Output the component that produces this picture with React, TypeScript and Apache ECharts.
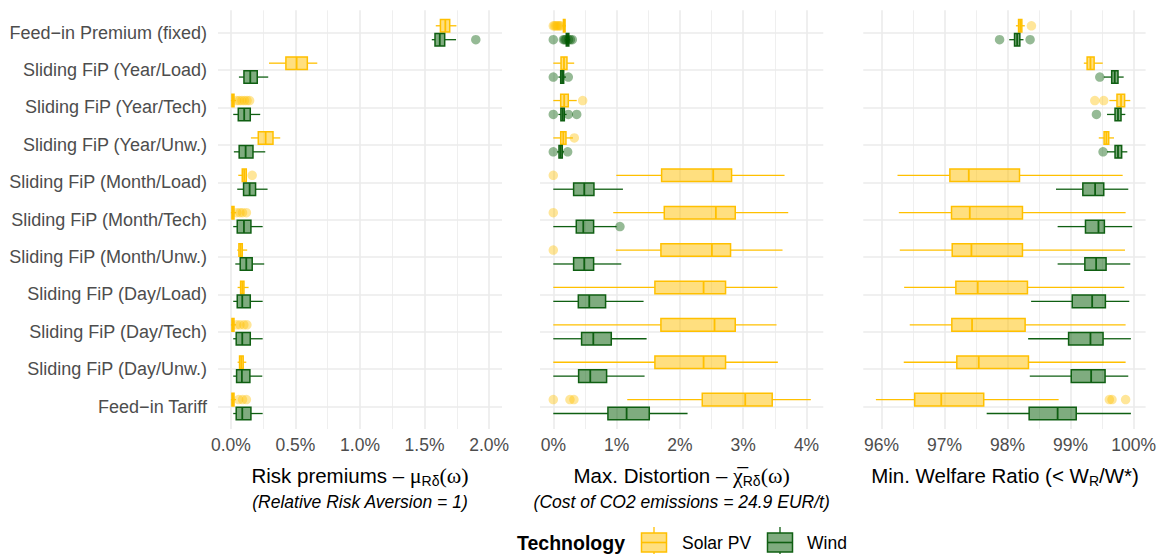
import React, { useEffect, useRef } from 'react';
import * as echarts from 'echarts';

const categories = [
  'Feed\u2212in Premium (fixed)',
  'Sliding FiP (Year/Load)',
  'Sliding FiP (Year/Tech)',
  'Sliding FiP (Year/Unw.)',
  'Sliding FiP (Month/Load)',
  'Sliding FiP (Month/Tech)',
  'Sliding FiP (Month/Unw.)',
  'Sliding FiP (Day/Load)',
  'Sliding FiP (Day/Tech)',
  'Sliding FiP (Day/Unw.)',
  'Feed\u2212in Tariff',
];

// [whisker low, q1, median, q3, whisker high] in percent, one row per category
const riskSolar = [
  [1.587, 1.623, 1.661, 1.695, 1.747],
  [0.295, 0.426, 0.509, 0.592, 0.669],
  [0.0, 0.008, 0.015, 0.024, 0.04],
  [0.155, 0.212, 0.269, 0.326, 0.382],
  [0.057, 0.088, 0.103, 0.119, 0.122],
  [0.0, 0.008, 0.015, 0.024, 0.04],
  [0.049, 0.062, 0.075, 0.088, 0.126],
  [0.052, 0.075, 0.088, 0.101, 0.137],
  [0.0, 0.008, 0.015, 0.024, 0.04],
  [0.052, 0.067, 0.08, 0.095, 0.119],
  [0.0, 0.008, 0.015, 0.024, 0.04],
];
const riskWind = [
  [1.556, 1.581, 1.618, 1.656, 1.744],
  [0.062, 0.101, 0.15, 0.204, 0.289],
  [0.018, 0.057, 0.103, 0.15, 0.227],
  [0.023, 0.064, 0.114, 0.171, 0.266],
  [0.049, 0.098, 0.145, 0.191, 0.284],
  [0.018, 0.049, 0.101, 0.155, 0.246],
  [0.034, 0.072, 0.119, 0.165, 0.258],
  [0.018, 0.049, 0.088, 0.15, 0.246],
  [0.018, 0.041, 0.088, 0.15, 0.246],
  [0.018, 0.044, 0.085, 0.147, 0.243],
  [0.018, 0.041, 0.088, 0.155, 0.246],
];
// outliers: [row, value]
const riskSolarOut = [
  [2, 0.045], [2, 0.065], [2, 0.085], [2, 0.105], [2, 0.125], [2, 0.145],
  [4, 0.165],
  [5, 0.045], [5, 0.07], [5, 0.09], [5, 0.12],
  [8, 0.045], [8, 0.07], [8, 0.1], [8, 0.124],
  [10, 0.06], [10, 0.09], [10, 0.12],
];
const riskWindOut = [[0, 1.897]];

const distSolar = [
  [0.14, 0.16, 0.175, 0.185, 0.2],
  [0.0, 0.122, 0.169, 0.216, 0.33],
  [0.0, 0.117, 0.172, 0.237, 0.37],
  [0.0, 0.117, 0.158, 0.2, 0.31],
  [0.995, 1.711, 2.526, 2.816, 3.653],
  [0.947, 1.753, 2.568, 2.874, 3.711],
  [0.989, 1.7, 2.505, 2.8, 3.621],
  [0.0, 1.605, 2.374, 2.721, 3.542],
  [0.0, 1.7, 2.547, 2.874, 3.526],
  [0.0, 1.605, 2.374, 2.721, 3.547],
  [1.168, 2.353, 3.032, 3.458, 4.068],
];
const distWind = [
  [0.19, 0.205, 0.227, 0.245, 0.26],
  [0.08, 0.117, 0.14, 0.164, 0.2],
  [0.08, 0.12, 0.148, 0.174, 0.21],
  [0.06, 0.09, 0.116, 0.142, 0.17],
  [0.0, 0.321, 0.489, 0.642, 1.1],
  [0.0, 0.363, 0.474, 0.637, 1.0],
  [0.0, 0.321, 0.489, 0.637, 1.074],
  [0.0, 0.395, 0.568, 0.826, 1.426],
  [0.0, 0.447, 0.632, 0.916, 1.474],
  [0.0, 0.4, 0.584, 0.842, 1.442],
  [0.0, 0.863, 1.158, 1.516, 2.121],
];
const distSolarOut = [
  [0, 0.0], [0, 0.02], [0, 0.04], [0, 0.06], [0, 0.08], [0, 0.1], [0, 0.12],
  [2, 0.464],
  [3, 0.332],
  [4, 0.0], [5, 0.0], [6, 0.0],
  [10, 0.0], [10, 0.263], [10, 0.326],
];
const distWindOut = [
  [0, 0.0], [0, 0.16], [0, 0.18], [0, 0.2], [0, 0.24], [0, 0.27], [0, 0.3],
  [1, 0.0], [1, 0.237],
  [2, 0.0], [2, 0.237], [2, 0.37],
  [3, 0.0], [3, 0.227],
  [5, 1.053],
];

const welfSolar = [
  [98.132, 98.174, 98.2, 98.226, 98.273],
  [99.21, 99.262, 99.315, 99.373, 99.51],
  [99.615, 99.736, 99.8, 99.857, 99.947],
  [99.447, 99.531, 99.568, 99.605, 99.689],
  [96.253, 97.084, 97.384, 98.189, 99.826],
  [96.274, 97.11, 97.4, 98.236, 99.873],
  [96.289, 97.121, 97.426, 98.236, 99.863],
  [96.358, 97.179, 97.526, 98.315, 99.852],
  [96.447, 97.115, 97.436, 98.278, 99.873],
  [96.352, 97.194, 97.542, 98.331, 99.873],
  [95.91, 96.526, 96.947, 97.621, 98.81],
];
const welfWind = [
  [98.026, 98.11, 98.152, 98.194, 98.252],
  [99.526, 99.652, 99.7, 99.752, 99.842],
  [99.578, 99.705, 99.752, 99.8, 99.868],
  [99.578, 99.705, 99.752, 99.81, 99.9],
  [98.768, 99.194, 99.389, 99.526, 99.915],
  [98.794, 99.236, 99.442, 99.536, 99.978],
  [98.794, 99.226, 99.405, 99.563, 99.947],
  [98.373, 99.026, 99.342, 99.552, 99.931],
  [98.326, 98.968, 99.315, 99.515, 99.957],
  [98.352, 99.01, 99.326, 99.547, 99.915],
  [97.668, 98.342, 98.794, 99.089, 99.957],
];
const welfSolarOut = [
  [0, 98.378],
  [2, 99.384], [2, 99.526],
  [10, 99.615], [10, 99.657], [10, 99.873],
];
const welfWindOut = [
  [0, 97.873], [0, 98.357],
  [1, 99.463],
  [2, 99.41],
  [3, 99.515],
];

const seriesNames = ['Solar PV', 'Wind'];

const SOLAR_STROKE = '#FFC000';
const SOLAR_FILL = 'rgba(255,192,0,0.5)';
const SOLAR_OUT = 'rgba(255,192,0,0.5)';
const WIND_STROKE = '#0F5F12';
const WIND_FILL = 'rgba(0,90,0,0.5)';
const WIND_OUT = 'rgba(0,88,0,0.52)';

const FONT = '"Liberation Sans", Arial, Helvetica, sans-serif';
const SERIF = '"Liberation Serif", "DejaVu Serif", serif';
const GRID_COLOR = '#EBEBEB';
const TICK_COLOR = '#4D4D4D';

const OFFSET = 0.186;
const HALF = 0.168;

function boxRender(offset: number, stroke: string, fill: string) {
  return (params: any, api: any) => {
    const row = api.value(0);
    const yc = row + offset;
    const pLo = api.coord([api.value(1), yc]);
    const pQ1 = api.coord([api.value(2), yc]);
    const pMed = api.coord([api.value(3), yc]);
    const pQ3 = api.coord([api.value(4), yc]);
    const pHi = api.coord([api.value(5), yc]);
    const a = api.coord([api.value(2), yc - HALF])[1];
    const b = api.coord([api.value(2), yc + HALF])[1];
    const top = Math.min(a, b);
    const bot = Math.max(a, b);
    const y = pLo[1];
    return {
      type: 'group',
      children: [
        { type: 'line', shape: { x1: pLo[0], y1: y, x2: pQ1[0], y2: y }, style: { stroke, lineWidth: 1.3 } },
        { type: 'line', shape: { x1: pQ3[0], y1: y, x2: pHi[0], y2: y }, style: { stroke, lineWidth: 1.3 } },
        {
          type: 'rect',
          shape: { x: pQ1[0], y: top, width: Math.max(pQ3[0] - pQ1[0], 0.5), height: bot - top },
          style: { fill, stroke, lineWidth: 1.5 },
        },
        { type: 'line', shape: { x1: pMed[0], y1: top, x2: pMed[0], y2: bot }, style: { stroke, lineWidth: 1.8 } },
      ],
    };
  };
}

const panels = [
  {
    solar: riskSolar, wind: riskWind, solarOut: riskSolarOut, windOut: riskWindOut,
    left: 218, width: 284, min: -0.1, max: 2.1,
    fmt: (v: number) => {
      const k = Math.round(v * 2) / 2;
      if (Math.abs(v - k) > 1e-6 || v < -1e-6 || v > 2.0001) return '';
      return k.toFixed(1) + '%';
    },
  },
  {
    solar: distSolar, wind: distWind, solarOut: distSolarOut, windOut: distWindOut,
    left: 540, width: 283.3, min: -0.21, max: 4.265,
    fmt: (v: number) => {
      const k = Math.round(v);
      if (Math.abs(v - k) > 1e-6 || k < 0 || k > 4) return '';
      return k + '%';
    },
  },
  {
    solar: welfSolar, wind: welfWind, solarOut: welfSolarOut, windOut: welfWindOut,
    left: 863.3, width: 283.4, min: 95.71, max: 100.19,
    fmt: (v: number) => {
      const k = Math.round(v);
      if (Math.abs(v - k) > 1e-6 || k < 96 || k > 100) return '';
      return k + '%';
    },
  },
];

const GRID_TOP = 10.3;
const GRID_H = 418.7;

function buildOption() {
  const grid: any[] = [];
  const xAxis: any[] = [];
  const yAxis: any[] = [];
  const series: any[] = [];

  panels.forEach((p, i) => {
    grid.push({ left: p.left, top: GRID_TOP, width: p.width, height: GRID_H, containLabel: false });
    xAxis.push({
      type: 'value',
      gridIndex: i,
      min: p.min,
      max: p.max,
      axisLine: { show: false },
      axisTick: { show: false },
      minorTick: { show: false, splitNumber: 2 },
      axisLabel: {
        show: true,
        formatter: p.fmt,
        color: TICK_COLOR,
        fontSize: 17.5,
        fontFamily: FONT,
        margin: 7,
        showMinLabel: true,
        showMaxLabel: true,
      },
      splitLine: { show: true, showMinLine: false, showMaxLine: false, lineStyle: { color: GRID_COLOR, width: 1.6 } },
      minorSplitLine: { show: true, lineStyle: { color: GRID_COLOR, width: 0.8 } },
    });
    yAxis.push({
      type: 'value',
      gridIndex: i,
      inverse: true,
      min: -0.6,
      max: 10.6,
      splitNumber: 11,
      axisLine: { show: false },
      axisTick: { show: false },
      axisLabel: {
        show: i === 0,
        color: TICK_COLOR,
        fontSize: 18,
        fontFamily: FONT,
        margin: 11,
        formatter: (v: number) => {
          const k = Math.round(v);
          if (Math.abs(v - k) > 1e-6 || k < 0 || k >= categories.length) return '';
          return categories[k];
        },
      },
      splitLine: { show: true, showMinLine: false, showMaxLine: false, lineStyle: { color: GRID_COLOR, width: 1.6 } },
    });

    series.push({
      type: 'custom',
      name: seriesNames[0],
      xAxisIndex: i,
      yAxisIndex: i,
      silent: true,
      renderItem: boxRender(-OFFSET, SOLAR_STROKE, SOLAR_FILL),
      encode: { x: [1, 2, 3, 4, 5], y: 0 },
      data: p.solar.map((d, r) => [r, ...d]),
      z: 3,
    });
    series.push({
      type: 'custom',
      name: seriesNames[1],
      xAxisIndex: i,
      yAxisIndex: i,
      silent: true,
      renderItem: boxRender(OFFSET, WIND_STROKE, WIND_FILL),
      encode: { x: [1, 2, 3, 4, 5], y: 0 },
      data: p.wind.map((d, r) => [r, ...d]),
      z: 3,
    });
    series.push({
      type: 'scatter',
      name: seriesNames[0] + ' outliers',
      xAxisIndex: i,
      yAxisIndex: i,
      silent: true,
      symbol: 'circle',
      symbolSize: 9.5,
      itemStyle: { color: SOLAR_OUT, borderWidth: 0 },
      data: p.solarOut.map(([r, v]) => [v, r - OFFSET]),
      z: 4,
    });
    series.push({
      type: 'scatter',
      name: seriesNames[1] + ' outliers',
      xAxisIndex: i,
      yAxisIndex: i,
      silent: true,
      symbol: 'circle',
      symbolSize: 9.5,
      itemStyle: { color: WIND_OUT, borderWidth: 0 },
      data: p.windOut.map(([r, v]) => [v, r + OFFSET]),
      z: 4,
    });
  });

  const titleRich = {
    t: { fontSize: 20.5, fontFamily: FONT, fill: '#000', lineHeight: 26 },
    g: { fontSize: 22, fontFamily: SERIF, fill: '#000', lineHeight: 26 },
    s: { fontSize: 14, fontFamily: FONT, fill: '#000', lineHeight: 14, verticalAlign: 'bottom' },
  };

  const centers = panels.map((p) => p.left + p.width / 2);

  const legendKey = (x: number, fill: string, stroke: string) => ({
    type: 'group',
    children: [
      { type: 'line', shape: { x1: x + 14, y1: 527, x2: x + 14, y2: 558 }, style: { stroke, lineWidth: 1.3 } },
      { type: 'rect', shape: { x: x + 1.5, y: 533, width: 25, height: 19 }, style: { fill: '#fff', stroke: 'none' } },
      { type: 'rect', shape: { x: x + 1.5, y: 533, width: 25, height: 19 }, style: { fill, stroke, lineWidth: 1.5 } },
      { type: 'line', shape: { x1: x + 1.5, y1: 542.5, x2: x + 26.5, y2: 542.5 }, style: { stroke, lineWidth: 1.6 } },
    ],
  });

  const subStyle = {
    fontSize: 17.5,
    fontStyle: 'italic',
    fontFamily: FONT,
    fill: '#000',
    align: 'center',
    verticalAlign: 'middle',
  };

  const graphic: any[] = [
    {
      type: 'text',
      x: centers[0],
      y: 475,
      style: {
        text: '{t|Risk premiums \u2013 }{g|\u03bc}{s|R\u03b4}{g|(\u03c9)}',
        align: 'center',
        verticalAlign: 'middle',
        rich: titleRich,
      },
    },
    {
      type: 'text',
      x: centers[1],
      y: 475,
      style: {
        text: '{t|Max. Distortion \u2013 }{g|\u03c7\u0305}{s|R\u03b4}{g|(\u03c9)}',
        align: 'center',
        verticalAlign: 'middle',
        rich: titleRich,
      },
    },
    {
      type: 'text',
      x: centers[2],
      y: 475,
      style: {
        text: '{t|Min. Welfare Ratio (< W}{s|R}{t|/W*)}',
        align: 'center',
        verticalAlign: 'middle',
        rich: titleRich,
      },
    },
    {
      type: 'text',
      x: centers[0],
      y: 502,
      style: { ...subStyle, text: '(Relative Risk Aversion = 1)' },
    },
    {
      type: 'text',
      x: centers[1],
      y: 502,
      style: { ...subStyle, text: '(Cost of CO2 emissions = 24.9 EUR/t)' },
    },
    {
      type: 'text',
      x: 517,
      y: 543,
      style: {
        text: 'Technology',
        fontSize: 19.5,
        fontWeight: 'bold',
        fontFamily: FONT,
        fill: '#000',
        align: 'left',
        verticalAlign: 'middle',
      },
    },
    legendKey(640, SOLAR_FILL, SOLAR_STROKE),
    {
      type: 'text',
      x: 682,
      y: 543,
      style: {
        text: seriesNames[0],
        fontSize: 17.5,
        fontFamily: FONT,
        fill: '#000',
        align: 'left',
        verticalAlign: 'middle',
      },
    },
    legendKey(766, WIND_FILL, WIND_STROKE),
    {
      type: 'text',
      x: 807,
      y: 543,
      style: {
        text: seriesNames[1],
        fontSize: 17.5,
        fontFamily: FONT,
        fill: '#000',
        align: 'left',
        verticalAlign: 'middle',
      },
    },
  ];

  return {
    animation: false,
    backgroundColor: '#ffffff',
    textStyle: { fontFamily: FONT },
    grid,
    xAxis,
    yAxis,
    series,
    graphic,
  };
}

export default function App() {
  const ref = useRef<HTMLDivElement>(null);
  useEffect(() => {
    document.body.style.margin = '0';
    if (!ref.current) return;
    const chart = echarts.init(ref.current, undefined, { renderer: 'svg', width: 1159, height: 554 });
    chart.setOption(buildOption() as any);
    return () => {
      chart.dispose();
    };
  }, []);
  return (
    <div
      ref={ref}
      style={{ position: 'absolute', left: 0, top: 0, width: 1159, height: 554, background: '#fff' }}
    />
  );
}
